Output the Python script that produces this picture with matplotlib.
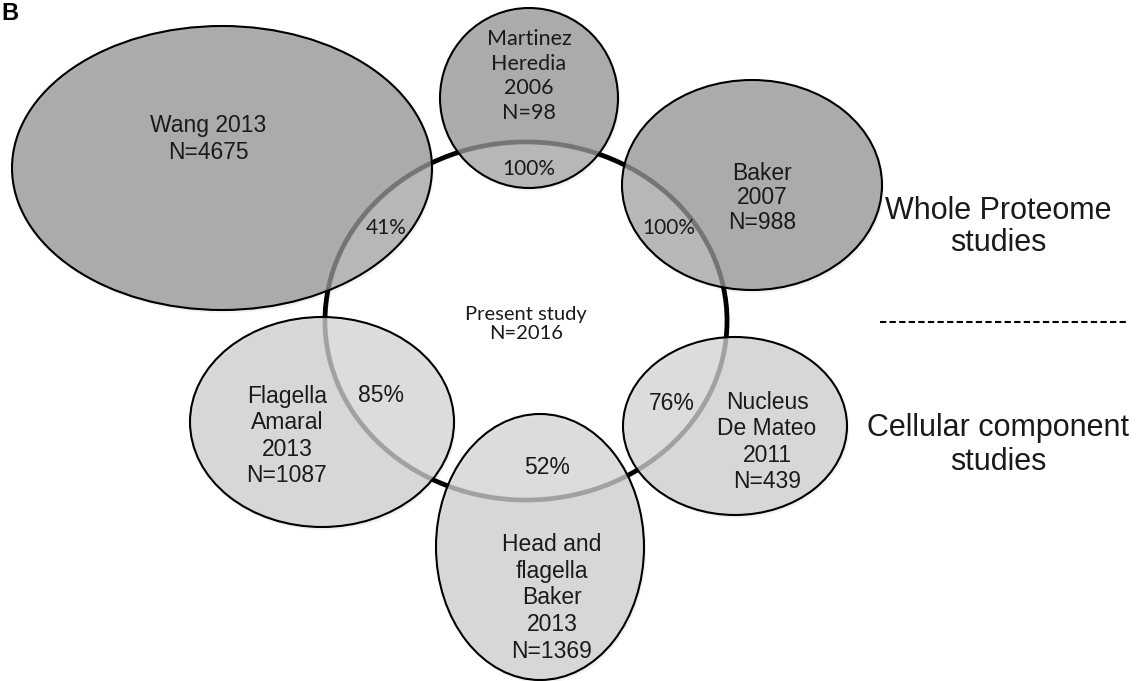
import matplotlib
matplotlib.use("Agg")
import matplotlib.pyplot as plt
from matplotlib.patches import Ellipse

# ---- data ----
studies = ["Wang 2013", "Martinez\nHeredia\n2006", "Baker\n2007",
           "Flagella\nAmaral\n2013", "Nucleus\nDe Mateo\n2011",
           "Head and\nflagella\nBaker\n2013"]
study_n = [4675, 98, 988, 1087, 439, 1369]
overlap_pct = [41, 100, 100, 85, 76, 52]
study_group = ["whole", "whole", "whole", "cell", "cell", "cell"]
present_label = "Present study"
present_n = 2016
group_labels = ["Whole Proteome\nstudies", "Cellular component\nstudies"]

# ---- layout (pixel space) ----
W, H = 1136, 681
fig = plt.figure(figsize=(W / 100, H / 100), dpi=100)
ax = fig.add_axes([0, 0, 1, 1])
ax.set_xlim(0, W)
ax.set_ylim(H, 0)
ax.axis("off")

ARIAL = "Liberation Sans"
CALI = "Lato"

# ellipse geometry: (cx, cy, width, height)
geom = [(222, 168, 420, 284), (529, 98, 178, 180), (752, 185, 260, 210),
        (322, 422, 264, 210), (735, 426, 224, 178), (540, 547, 208, 266)]
label_pos = [(208, 139), (529, 76), (762, 198), (287, 436), (767, 442), (552, 598)]
label_font = [ARIAL, CALI, ARIAL, ARIAL, ARIAL, ARIAL]
label_size = [16.5, 15.5, 16.5, 16.5, 16.5, 16.5]
label_ls = [1.2, 1.3, 1.1, 1.2, 1.2, 1.2]
pct_pos = [(386, 228), (529, 169), (669, 228), (381, 395), (672, 403), (547, 468)]
pct_font = [CALI, CALI, CALI, ARIAL, ARIAL, ARIAL]
pct_size = [15, 15, 15, 16.5, 16.5, 16.5]

fill_alpha = 0.78
fill_color = {"whole": "#979797", "cell": "#d0d0d0"}

central = (526, 321, 402, 358)

# central circle outline (below)
ax.add_patch(Ellipse(central[:2], central[2], central[3], fill=False,
                     edgecolor="black", lw=3.5, zorder=1))

for (cx, cy, w, h), g in zip(geom, study_group):
    ax.add_patch(Ellipse((cx + 2, cy + 3), w, h, facecolor="#000000", alpha=0.05,
                         edgecolor="none", zorder=1.5))
    ax.add_patch(Ellipse((cx, cy), w, h, facecolor=fill_color[g], alpha=fill_alpha,
                         edgecolor="none", zorder=2))

# white overlay on central circle
ax.add_patch(Ellipse(central[:2], central[2] - 4, central[3] - 4, facecolor="white",
                     alpha=0.15, edgecolor="none", zorder=3))

for (cx, cy, w, h) in geom:
    ax.add_patch(Ellipse((cx, cy), w, h, fill=False, edgecolor="black", lw=1.5, zorder=4))

for name, n, (x, y), f, s, ls in zip(studies, study_n, label_pos, label_font,
                                     label_size, label_ls):
    ax.text(x, y, f"{name}\nN={n}", ha="center", va="center", fontsize=s,
            family=f, color="#1a1a1a", linespacing=ls, zorder=5)

for p, (x, y), f, s in zip(overlap_pct, pct_pos, pct_font, pct_size):
    ax.text(x, y, f"{p}%", ha="center", va="center", fontsize=s, family=f,
            color="#1a1a1a", zorder=5)

ax.text(central[0], 324, f"{present_label}\nN={present_n}", ha="center", va="center",
        fontsize=14.5, family=CALI, color="#1a1a1a", linespacing=1.1, zorder=5)

ax.text(998, 227, group_labels[0], ha="center", va="center", fontsize=22,
        family=ARIAL, color="#1a1a1a", linespacing=1.08, zorder=5)
ax.text(998, 445, group_labels[1], ha="center", va="center", fontsize=22,
        family=ARIAL, color="#1a1a1a", linespacing=1.15, zorder=5)
ax.plot([880, 1128], [322, 322], color="black", lw=1.5, ls=(0, (3, 1.6)), zorder=5)

ax.text(1, 14, "B", ha="left", va="center", fontsize=17, family=ARIAL,
        weight="bold", color="black", zorder=5)

fig.savefig("out.png", dpi=100)
